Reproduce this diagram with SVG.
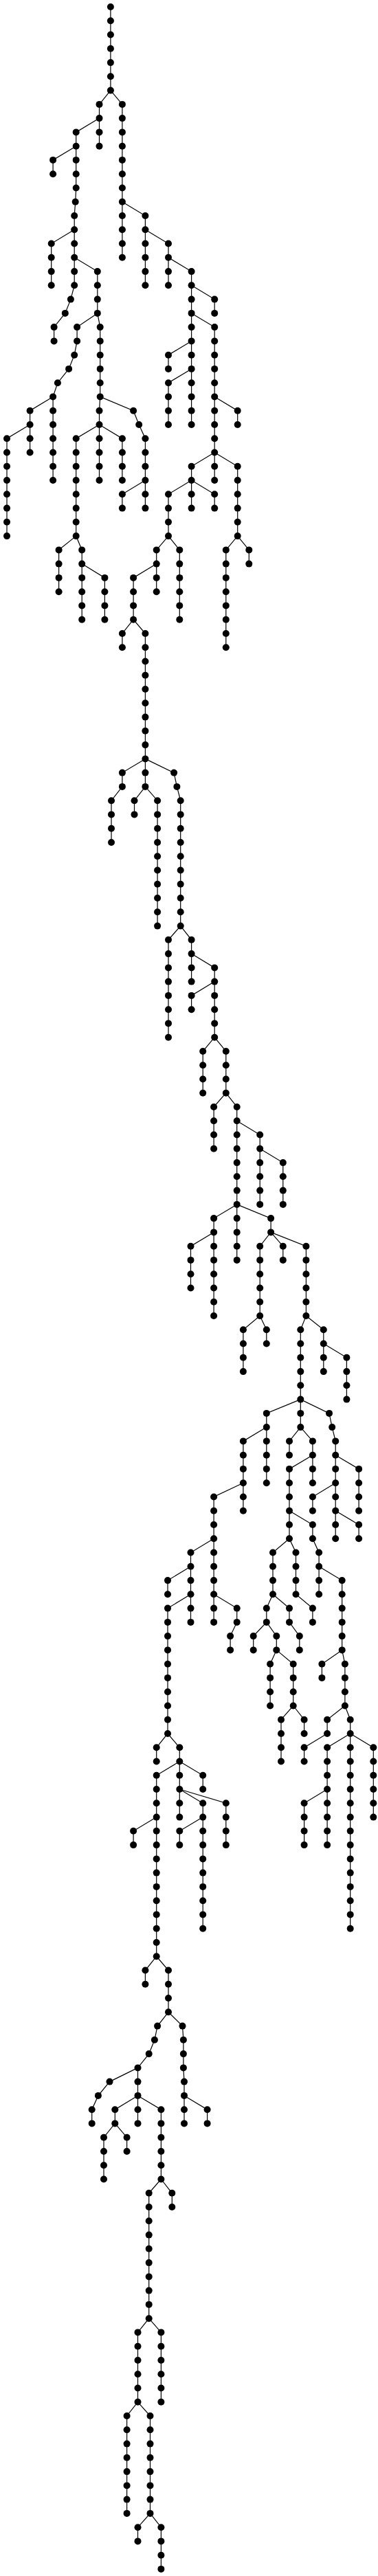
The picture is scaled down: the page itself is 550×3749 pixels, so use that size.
<svg xmlns="http://www.w3.org/2000/svg" width="550" height="3749" viewBox="0 0 550 3749">
<style>
.e path{fill:none;stroke:#000;stroke-width:1.2}
circle{fill:#000}
</style>
<rect width="550" height="3749" fill="#fff"/>
<g class="e" id="connectors">
<path d="M160.9 10V131.6"/>
<path d="M160.9 131.6L144.5 151.9V212.7"/>
<path d="M144.5 172.1L110.7 192.4V273.5L109.7 293.7L108.2 314V415.3L102.9 435.6L94.8 455.9L78.6 476.1V496.4"/>
<path d="M110.7 212.7L77.1 232.9V253.2"/>
<path d="M108.2 334.3L74.7 354.5V415.3"/>
<path d="M108.2 374.8L141.8 395.1V455.9L145.7 476.1V577.4L144.5 597.7V699"/>
<path d="M141.8 455.9L112.1 476.1V496.4L108.2 516.7L100.1 536.9L83.9 557.2L77.1 577.4V699"/>
<path d="M77.1 577.4L43.6 597.7V658.5"/>
<path d="M43.6 618L10 638.2V780.1"/>
<path d="M145.7 577.4L194.1 597.7L202.2 618L211.4 638.2V739.6"/>
<path d="M211.4 699L177.9 719.3V739.6"/>
<path d="M144.5 618L110.7 638.2V780.1L119.2 800.4V901.7"/>
<path d="M110.7 780.1L85.6 800.4V861.2"/>
<path d="M119.2 820.6L152.4 840.9V901.7"/>
<path d="M144.5 618L177.9 638.2V699"/>
<path d="M160.9 131.6L177.9 151.9V374.8"/>
<path d="M177.9 293.7L211.4 314V415.3"/>
<path d="M211.4 334.3L245 354.5V415.3"/>
<path d="M245 374.8L278.6 395.1V618"/>
<path d="M278.6 415.3L312.2 435.6V455.9"/>
<path d="M278.6 455.9L312.2 476.1V699"/>
<path d="M278.6 496.4L245 516.7V536.9"/>
<path d="M278.6 536.9L245 557.2V618"/>
<path d="M312.2 577.4L345.7 597.7V618"/>
<path d="M312.2 658.5L278.6 678.8V739.6"/>
<path d="M278.6 699L245 719.3V780.1L261.3 800.4V901.7"/>
<path d="M278.6 699L312.2 719.3V739.6"/>
<path d="M312.2 658.5L345.7 678.8V780.1L328.8 800.4V942.2"/>
<path d="M345.7 780.1L362.3 800.4V820.6"/>
<path d="M245 780.1L227.7 800.4V861.2"/>
<path d="M227.7 820.6L194.1 840.9V901.7L211.4 922V1144.9L229.1 1165.2V1347.6"/>
<path d="M194.1 901.7L177.9 922V942.2"/>
<path d="M211.4 1104.4L177.9 1124.6V1144.9L162 1165.2V1226"/>
<path d="M211.4 1144.9L195.5 1165.2V1185.4"/>
<path d="M211.4 1104.4L253.1 1124.6L257.4 1144.9L262.7 1165.2V1347.6L278.6 1367.8V1428.6"/>
<path d="M262.7 1347.6L245 1367.8V1509.7"/>
<path d="M278.6 1388.1L312.2 1408.4V1509.7L328.8 1530V1590.7L344.7 1611V1833.9"/>
<path d="M312.2 1428.6L278.6 1448.9V1469.2"/>
<path d="M312.2 1509.7L295.2 1530V1590.7"/>
<path d="M328.8 1590.7L311.1 1611V1671.8"/>
<path d="M344.7 1631.3L378.2 1651.5V1752.9"/>
<path d="M378.2 1671.8L411.8 1692.1V1752.9"/>
<path d="M344.7 1752.9L311.1 1773.1V1915"/>
<path d="M311.1 1793.4L277.5 1813.7V1874.5"/>
<path d="M344.7 1752.9L394.1 1773.1V1793.4L378.2 1813.7V1915L353.9 1935.3V1996.1"/>
<path d="M378.2 1915L387.8 1935.3V1955.5"/>
<path d="M394.1 1793.4L411.8 1813.7V1833.9"/>
<path d="M394.1 1793.4L445.4 1813.7V1915L437.3 1935.3V2077.1L454.9 2097.4V2158.2"/>
<path d="M445.4 1915L470.8 1935.3V1996.1"/>
<path d="M470.8 1955.5L504.4 1975.8V2036.6"/>
<path d="M437.3 2036.6L387.8 2056.9V2158.2"/>
<path d="M387.8 2077.1L353.9 2097.4V2198.7"/>
<path d="M353.9 2158.2L311.1 2178.5V2360.9"/>
<path d="M437.3 2077.1L421 2097.4V2117.7"/>
<path d="M454.9 2117.7L421 2137.9V2239.3L430.5 2259.5V2320.3L454.9 2340.6V2360.9"/>
<path d="M437.3 2036.6L479 2056.9L483.2 2077.1L488.2 2097.4V2239.3"/>
<path d="M488.2 2117.7L522.1 2137.9V2198.7"/>
<path d="M488.2 2158.2L454.9 2178.5V2198.7"/>
<path d="M488.2 2198.7L522.1 2219V2239.3"/>
<path d="M311.1 2239.3L277.5 2259.5V2360.9"/>
<path d="M277.5 2279.8L244 2300.1V2320.3"/>
<path d="M277.5 2320.3L244 2340.6V2523L227.7 2543.3V2563.5"/>
<path d="M311.1 2320.3L344.7 2340.6V2360.9L335.1 2381.1V2401.4"/>
<path d="M421 2239.3L397 2259.5V2320.3L387.8 2340.6V2360.9L368.7 2381.1V2401.4"/>
<path d="M387.8 2360.9L402.3 2381.1V2401.4L393.1 2421.7V2482.5"/>
<path d="M402.3 2401.4L426.7 2421.7V2482.5L409 2502.7V2563.5"/>
<path d="M426.7 2482.5L442.6 2502.7V2523"/>
<path d="M397 2320.3L421 2340.6V2360.9L435.8 2381.1V2401.4"/>
<path d="M421 2198.7L454.9 2219V2239.3L464.1 2259.5V2320.3"/>
<path d="M464.1 2279.8L497.7 2300.1V2401.4L501.9 2421.7V2482.5L509.7 2502.7V2806.7"/>
<path d="M497.7 2401.4L468.4 2421.7V2441.9"/>
<path d="M501.9 2482.5L476.1 2502.7V2523L442.6 2543.3V2563.5"/>
<path d="M509.7 2523L476.1 2543.3V2685.1"/>
<path d="M476.1 2604L442.6 2624.3V2685.1"/>
<path d="M509.7 2523L543.3 2543.3V2644.6"/>
<path d="M244 2523L261.3 2543.3V2644.6"/>
<path d="M261.3 2563.5L227.7 2583.8V2847.2L245 2867.5V2928.3L265.5 2948.6L266.9 2968.8V3009.4L268 3029.6V3090.4"/>
<path d="M227.7 2644.6L194.1 2664.8V2685.1"/>
<path d="M261.3 2563.5L295.2 2583.8V2604"/>
<path d="M261.3 2604L295.2 2624.3V2806.7"/>
<path d="M295.2 2644.6L261.3 2664.8V2685.1"/>
<path d="M261.3 2604L328.8 2624.3V2685.1"/>
<path d="M227.7 2847.2L211.4 2867.5V2887.8"/>
<path d="M245 2928.3L229.1 2948.6L224.9 2968.8L216.7 2989.1L200.5 3009.4V3090.4"/>
<path d="M200.5 3009.4L159.5 3029.6L142.9 3049.9L133.7 3070.2V3090.4"/>
<path d="M200.5 3049.9L167.3 3070.2V3090.4L151 3110.7V3171.5"/>
<path d="M167.3 3090.4L184.6 3110.7V3131"/>
<path d="M200.5 3049.9L234.4 3070.2V3171.5L216.7 3191.8V3374.2L200.5 3394.4V3495.8L184.6 3516V3657.9"/>
<path d="M234.4 3171.5L250.3 3191.8V3212"/>
<path d="M216.7 3374.2L234.4 3394.4V3495.8"/>
<path d="M200.5 3495.8L218.5 3516V3657.9L200.5 3678.2V3698.4"/>
<path d="M218.5 3657.9L234.4 3678.2V3738.9"/>
<path d="M268 3049.9L301.6 3070.2V3090.4"/>
</g>
<g id="nodes">
<g id="n1"><circle r="5" cx="160.9" cy="10"/></g>
<g id="n2"><circle r="5" cx="160.9" cy="30.3"/></g>
<g id="n3"><circle r="5" cx="160.9" cy="50.5"/></g>
<g id="n4"><circle r="5" cx="160.9" cy="70.8"/></g>
<g id="n5"><circle r="5" cx="160.9" cy="91.1"/></g>
<g id="n6"><circle r="5" cx="160.9" cy="111.3"/></g>
<g id="n7"><circle r="5" cx="160.9" cy="131.6"/></g>
<g id="n8"><circle r="5" cx="144.5" cy="151.9"/></g>
<g id="n9"><circle r="5" cx="144.5" cy="172.1"/></g>
<g id="n10"><circle r="5" cx="144.5" cy="192.4"/></g>
<g id="n11"><circle r="5" cx="144.5" cy="212.7"/></g>
<g id="n12"><circle r="5" cx="110.7" cy="192.4"/></g>
<g id="n13"><circle r="5" cx="110.7" cy="212.7"/></g>
<g id="n14"><circle r="5" cx="110.7" cy="232.9"/></g>
<g id="n15"><circle r="5" cx="110.7" cy="253.2"/></g>
<g id="n16"><circle r="5" cx="110.7" cy="273.5"/></g>
<g id="n17"><circle r="5" cx="109.7" cy="293.7"/></g>
<g id="n18"><circle r="5" cx="108.2" cy="314"/></g>
<g id="n19"><circle r="5" cx="108.2" cy="334.3"/></g>
<g id="n20"><circle r="5" cx="108.2" cy="354.5"/></g>
<g id="n21"><circle r="5" cx="108.2" cy="374.8"/></g>
<g id="n22"><circle r="5" cx="108.2" cy="395.1"/></g>
<g id="n23"><circle r="5" cx="108.2" cy="415.3"/></g>
<g id="n24"><circle r="5" cx="102.9" cy="435.6"/></g>
<g id="n25"><circle r="5" cx="94.8" cy="455.9"/></g>
<g id="n26"><circle r="5" cx="78.6" cy="476.1"/></g>
<g id="n27"><circle r="5" cx="78.6" cy="496.4"/></g>
<g id="n28"><circle r="5" cx="77.1" cy="232.9"/></g>
<g id="n29"><circle r="5" cx="77.1" cy="253.2"/></g>
<g id="n30"><circle r="5" cx="74.7" cy="354.5"/></g>
<g id="n31"><circle r="5" cx="74.7" cy="374.8"/></g>
<g id="n32"><circle r="5" cx="74.7" cy="395.1"/></g>
<g id="n33"><circle r="5" cx="74.7" cy="415.3"/></g>
<g id="n34"><circle r="5" cx="141.8" cy="395.1"/></g>
<g id="n35"><circle r="5" cx="141.8" cy="415.3"/></g>
<g id="n36"><circle r="5" cx="141.8" cy="435.6"/></g>
<g id="n37"><circle r="5" cx="141.8" cy="455.9"/></g>
<g id="n38"><circle r="5" cx="145.7" cy="476.1"/></g>
<g id="n39"><circle r="5" cx="145.7" cy="496.4"/></g>
<g id="n40"><circle r="5" cx="145.7" cy="516.7"/></g>
<g id="n41"><circle r="5" cx="145.7" cy="536.9"/></g>
<g id="n42"><circle r="5" cx="145.7" cy="557.2"/></g>
<g id="n43"><circle r="5" cx="145.7" cy="577.4"/></g>
<g id="n44"><circle r="5" cx="144.5" cy="597.7"/></g>
<g id="n45"><circle r="5" cx="144.5" cy="618"/></g>
<g id="n46"><circle r="5" cx="144.5" cy="638.2"/></g>
<g id="n47"><circle r="5" cx="144.5" cy="658.5"/></g>
<g id="n48"><circle r="5" cx="144.5" cy="678.8"/></g>
<g id="n49"><circle r="5" cx="144.5" cy="699"/></g>
<g id="n50"><circle r="5" cx="112.1" cy="476.1"/></g>
<g id="n51"><circle r="5" cx="112.1" cy="496.4"/></g>
<g id="n52"><circle r="5" cx="108.2" cy="516.7"/></g>
<g id="n53"><circle r="5" cx="100.1" cy="536.9"/></g>
<g id="n54"><circle r="5" cx="83.9" cy="557.2"/></g>
<g id="n55"><circle r="5" cx="77.1" cy="577.4"/></g>
<g id="n56"><circle r="5" cx="77.1" cy="597.7"/></g>
<g id="n57"><circle r="5" cx="77.1" cy="618"/></g>
<g id="n58"><circle r="5" cx="77.1" cy="638.2"/></g>
<g id="n59"><circle r="5" cx="77.1" cy="658.5"/></g>
<g id="n60"><circle r="5" cx="77.1" cy="678.8"/></g>
<g id="n61"><circle r="5" cx="77.1" cy="699"/></g>
<g id="n62"><circle r="5" cx="43.6" cy="597.7"/></g>
<g id="n63"><circle r="5" cx="43.6" cy="618"/></g>
<g id="n64"><circle r="5" cx="43.6" cy="638.2"/></g>
<g id="n65"><circle r="5" cx="43.6" cy="658.5"/></g>
<g id="n66"><circle r="5" cx="10" cy="638.2"/></g>
<g id="n67"><circle r="5" cx="10" cy="658.5"/></g>
<g id="n68"><circle r="5" cx="10" cy="678.8"/></g>
<g id="n69"><circle r="5" cx="10" cy="699"/></g>
<g id="n70"><circle r="5" cx="10" cy="719.3"/></g>
<g id="n71"><circle r="5" cx="10" cy="739.6"/></g>
<g id="n72"><circle r="5" cx="10" cy="759.8"/></g>
<g id="n73"><circle r="5" cx="10" cy="780.1"/></g>
<g id="n74"><circle r="5" cx="194.1" cy="597.7"/></g>
<g id="n75"><circle r="5" cx="202.2" cy="618"/></g>
<g id="n76"><circle r="5" cx="211.4" cy="638.2"/></g>
<g id="n77"><circle r="5" cx="211.4" cy="658.5"/></g>
<g id="n78"><circle r="5" cx="211.4" cy="678.8"/></g>
<g id="n79"><circle r="5" cx="211.4" cy="699"/></g>
<g id="n80"><circle r="5" cx="211.4" cy="719.3"/></g>
<g id="n81"><circle r="5" cx="211.4" cy="739.6"/></g>
<g id="n82"><circle r="5" cx="177.9" cy="719.3"/></g>
<g id="n83"><circle r="5" cx="177.9" cy="739.6"/></g>
<g id="n84"><circle r="5" cx="110.7" cy="638.2"/></g>
<g id="n85"><circle r="5" cx="110.7" cy="658.5"/></g>
<g id="n86"><circle r="5" cx="110.7" cy="678.8"/></g>
<g id="n87"><circle r="5" cx="110.7" cy="699"/></g>
<g id="n88"><circle r="5" cx="110.7" cy="719.3"/></g>
<g id="n89"><circle r="5" cx="110.7" cy="739.6"/></g>
<g id="n90"><circle r="5" cx="110.7" cy="759.8"/></g>
<g id="n91"><circle r="5" cx="110.7" cy="780.1"/></g>
<g id="n92"><circle r="5" cx="119.2" cy="800.4"/></g>
<g id="n93"><circle r="5" cx="119.2" cy="820.6"/></g>
<g id="n94"><circle r="5" cx="119.2" cy="840.9"/></g>
<g id="n95"><circle r="5" cx="119.2" cy="861.2"/></g>
<g id="n96"><circle r="5" cx="119.2" cy="881.4"/></g>
<g id="n97"><circle r="5" cx="119.2" cy="901.7"/></g>
<g id="n98"><circle r="5" cx="85.6" cy="800.4"/></g>
<g id="n99"><circle r="5" cx="85.6" cy="820.6"/></g>
<g id="n100"><circle r="5" cx="85.6" cy="840.9"/></g>
<g id="n101"><circle r="5" cx="85.6" cy="861.2"/></g>
<g id="n102"><circle r="5" cx="152.4" cy="840.9"/></g>
<g id="n103"><circle r="5" cx="152.4" cy="861.2"/></g>
<g id="n104"><circle r="5" cx="152.4" cy="881.4"/></g>
<g id="n105"><circle r="5" cx="152.4" cy="901.7"/></g>
<g id="n106"><circle r="5" cx="177.9" cy="638.2"/></g>
<g id="n107"><circle r="5" cx="177.9" cy="658.5"/></g>
<g id="n108"><circle r="5" cx="177.9" cy="678.8"/></g>
<g id="n109"><circle r="5" cx="177.9" cy="699"/></g>
<g id="n110"><circle r="5" cx="177.9" cy="151.9"/></g>
<g id="n111"><circle r="5" cx="177.9" cy="172.1"/></g>
<g id="n112"><circle r="5" cx="177.9" cy="192.4"/></g>
<g id="n113"><circle r="5" cx="177.9" cy="212.7"/></g>
<g id="n114"><circle r="5" cx="177.9" cy="232.9"/></g>
<g id="n115"><circle r="5" cx="177.9" cy="253.2"/></g>
<g id="n116"><circle r="5" cx="177.9" cy="273.5"/></g>
<g id="n117"><circle r="5" cx="177.9" cy="293.7"/></g>
<g id="n118"><circle r="5" cx="177.9" cy="314"/></g>
<g id="n119"><circle r="5" cx="177.9" cy="334.3"/></g>
<g id="n120"><circle r="5" cx="177.9" cy="354.5"/></g>
<g id="n121"><circle r="5" cx="177.9" cy="374.8"/></g>
<g id="n122"><circle r="5" cx="211.4" cy="314"/></g>
<g id="n123"><circle r="5" cx="211.4" cy="334.3"/></g>
<g id="n124"><circle r="5" cx="211.4" cy="354.5"/></g>
<g id="n125"><circle r="5" cx="211.4" cy="374.8"/></g>
<g id="n126"><circle r="5" cx="211.4" cy="395.1"/></g>
<g id="n127"><circle r="5" cx="211.4" cy="415.3"/></g>
<g id="n128"><circle r="5" cx="245" cy="354.5"/></g>
<g id="n129"><circle r="5" cx="245" cy="374.8"/></g>
<g id="n130"><circle r="5" cx="245" cy="395.1"/></g>
<g id="n131"><circle r="5" cx="245" cy="415.3"/></g>
<g id="n132"><circle r="5" cx="278.6" cy="395.1"/></g>
<g id="n133"><circle r="5" cx="278.6" cy="415.3"/></g>
<g id="n134"><circle r="5" cx="278.6" cy="435.6"/></g>
<g id="n135"><circle r="5" cx="278.6" cy="455.9"/></g>
<g id="n136"><circle r="5" cx="278.6" cy="476.1"/></g>
<g id="n137"><circle r="5" cx="278.6" cy="496.4"/></g>
<g id="n138"><circle r="5" cx="278.6" cy="516.7"/></g>
<g id="n139"><circle r="5" cx="278.6" cy="536.9"/></g>
<g id="n140"><circle r="5" cx="278.6" cy="557.2"/></g>
<g id="n141"><circle r="5" cx="278.6" cy="577.4"/></g>
<g id="n142"><circle r="5" cx="278.6" cy="597.7"/></g>
<g id="n143"><circle r="5" cx="278.6" cy="618"/></g>
<g id="n144"><circle r="5" cx="312.2" cy="435.6"/></g>
<g id="n145"><circle r="5" cx="312.2" cy="455.9"/></g>
<g id="n146"><circle r="5" cx="312.2" cy="476.1"/></g>
<g id="n147"><circle r="5" cx="312.2" cy="496.4"/></g>
<g id="n148"><circle r="5" cx="312.2" cy="516.7"/></g>
<g id="n149"><circle r="5" cx="312.2" cy="536.9"/></g>
<g id="n150"><circle r="5" cx="312.2" cy="557.2"/></g>
<g id="n151"><circle r="5" cx="312.2" cy="577.4"/></g>
<g id="n152"><circle r="5" cx="312.2" cy="597.7"/></g>
<g id="n153"><circle r="5" cx="312.2" cy="618"/></g>
<g id="n154"><circle r="5" cx="312.2" cy="638.2"/></g>
<g id="n155"><circle r="5" cx="312.2" cy="658.5"/></g>
<g id="n156"><circle r="5" cx="312.2" cy="678.8"/></g>
<g id="n157"><circle r="5" cx="312.2" cy="699"/></g>
<g id="n158"><circle r="5" cx="245" cy="516.7"/></g>
<g id="n159"><circle r="5" cx="245" cy="536.9"/></g>
<g id="n160"><circle r="5" cx="245" cy="557.2"/></g>
<g id="n161"><circle r="5" cx="245" cy="577.4"/></g>
<g id="n162"><circle r="5" cx="245" cy="597.7"/></g>
<g id="n163"><circle r="5" cx="245" cy="618"/></g>
<g id="n164"><circle r="5" cx="345.7" cy="597.7"/></g>
<g id="n165"><circle r="5" cx="345.7" cy="618"/></g>
<g id="n166"><circle r="5" cx="278.6" cy="678.8"/></g>
<g id="n167"><circle r="5" cx="278.6" cy="699"/></g>
<g id="n168"><circle r="5" cx="278.6" cy="719.3"/></g>
<g id="n169"><circle r="5" cx="278.6" cy="739.6"/></g>
<g id="n170"><circle r="5" cx="245" cy="719.3"/></g>
<g id="n171"><circle r="5" cx="245" cy="739.6"/></g>
<g id="n172"><circle r="5" cx="245" cy="759.8"/></g>
<g id="n173"><circle r="5" cx="245" cy="780.1"/></g>
<g id="n174"><circle r="5" cx="261.3" cy="800.4"/></g>
<g id="n175"><circle r="5" cx="261.3" cy="820.6"/></g>
<g id="n176"><circle r="5" cx="261.3" cy="840.9"/></g>
<g id="n177"><circle r="5" cx="261.3" cy="861.2"/></g>
<g id="n178"><circle r="5" cx="261.3" cy="881.4"/></g>
<g id="n179"><circle r="5" cx="261.3" cy="901.7"/></g>
<g id="n180"><circle r="5" cx="312.2" cy="719.3"/></g>
<g id="n181"><circle r="5" cx="312.2" cy="739.6"/></g>
<g id="n182"><circle r="5" cx="345.7" cy="678.8"/></g>
<g id="n183"><circle r="5" cx="345.7" cy="699"/></g>
<g id="n184"><circle r="5" cx="345.7" cy="719.3"/></g>
<g id="n185"><circle r="5" cx="345.7" cy="739.6"/></g>
<g id="n186"><circle r="5" cx="345.7" cy="759.8"/></g>
<g id="n187"><circle r="5" cx="345.7" cy="780.1"/></g>
<g id="n188"><circle r="5" cx="328.8" cy="800.4"/></g>
<g id="n189"><circle r="5" cx="328.8" cy="820.6"/></g>
<g id="n190"><circle r="5" cx="328.8" cy="840.9"/></g>
<g id="n191"><circle r="5" cx="328.8" cy="861.2"/></g>
<g id="n192"><circle r="5" cx="328.8" cy="881.4"/></g>
<g id="n193"><circle r="5" cx="328.8" cy="901.7"/></g>
<g id="n194"><circle r="5" cx="328.8" cy="922"/></g>
<g id="n195"><circle r="5" cx="328.8" cy="942.2"/></g>
<g id="n196"><circle r="5" cx="362.3" cy="800.4"/></g>
<g id="n197"><circle r="5" cx="362.3" cy="820.6"/></g>
<g id="n198"><circle r="5" cx="227.7" cy="800.4"/></g>
<g id="n199"><circle r="5" cx="227.7" cy="820.6"/></g>
<g id="n200"><circle r="5" cx="227.7" cy="840.9"/></g>
<g id="n201"><circle r="5" cx="227.7" cy="861.2"/></g>
<g id="n202"><circle r="5" cx="194.1" cy="840.9"/></g>
<g id="n203"><circle r="5" cx="194.1" cy="861.2"/></g>
<g id="n204"><circle r="5" cx="194.1" cy="881.4"/></g>
<g id="n205"><circle r="5" cx="194.1" cy="901.7"/></g>
<g id="n206"><circle r="5" cx="211.4" cy="922"/></g>
<g id="n207"><circle r="5" cx="211.4" cy="942.2"/></g>
<g id="n208"><circle r="5" cx="211.4" cy="962.5"/></g>
<g id="n209"><circle r="5" cx="211.4" cy="982.8"/></g>
<g id="n210"><circle r="5" cx="211.4" cy="1003"/></g>
<g id="n211"><circle r="5" cx="211.4" cy="1023.3"/></g>
<g id="n212"><circle r="5" cx="211.4" cy="1043.6"/></g>
<g id="n213"><circle r="5" cx="211.4" cy="1063.8"/></g>
<g id="n214"><circle r="5" cx="211.4" cy="1084.1"/></g>
<g id="n215"><circle r="5" cx="211.4" cy="1104.4"/></g>
<g id="n216"><circle r="5" cx="211.4" cy="1124.6"/></g>
<g id="n217"><circle r="5" cx="211.4" cy="1144.9"/></g>
<g id="n218"><circle r="5" cx="229.1" cy="1165.2"/></g>
<g id="n219"><circle r="5" cx="229.1" cy="1185.4"/></g>
<g id="n220"><circle r="5" cx="229.1" cy="1205.7"/></g>
<g id="n221"><circle r="5" cx="229.1" cy="1226"/></g>
<g id="n222"><circle r="5" cx="229.1" cy="1246.2"/></g>
<g id="n223"><circle r="5" cx="229.1" cy="1266.5"/></g>
<g id="n224"><circle r="5" cx="229.1" cy="1286.8"/></g>
<g id="n225"><circle r="5" cx="229.1" cy="1307"/></g>
<g id="n226"><circle r="5" cx="229.1" cy="1327.3"/></g>
<g id="n227"><circle r="5" cx="229.1" cy="1347.6"/></g>
<g id="n228"><circle r="5" cx="177.9" cy="922"/></g>
<g id="n229"><circle r="5" cx="177.9" cy="942.2"/></g>
<g id="n230"><circle r="5" cx="177.9" cy="1124.6"/></g>
<g id="n231"><circle r="5" cx="177.9" cy="1144.9"/></g>
<g id="n232"><circle r="5" cx="162" cy="1165.2"/></g>
<g id="n233"><circle r="5" cx="162" cy="1185.4"/></g>
<g id="n234"><circle r="5" cx="162" cy="1205.7"/></g>
<g id="n235"><circle r="5" cx="162" cy="1226"/></g>
<g id="n236"><circle r="5" cx="195.5" cy="1165.2"/></g>
<g id="n237"><circle r="5" cx="195.5" cy="1185.4"/></g>
<g id="n238"><circle r="5" cx="253.1" cy="1124.6"/></g>
<g id="n239"><circle r="5" cx="257.4" cy="1144.9"/></g>
<g id="n240"><circle r="5" cx="262.7" cy="1165.2"/></g>
<g id="n241"><circle r="5" cx="262.7" cy="1185.4"/></g>
<g id="n242"><circle r="5" cx="262.7" cy="1205.7"/></g>
<g id="n243"><circle r="5" cx="262.7" cy="1226"/></g>
<g id="n244"><circle r="5" cx="262.7" cy="1246.2"/></g>
<g id="n245"><circle r="5" cx="262.7" cy="1266.5"/></g>
<g id="n246"><circle r="5" cx="262.7" cy="1286.8"/></g>
<g id="n247"><circle r="5" cx="262.7" cy="1307"/></g>
<g id="n248"><circle r="5" cx="262.7" cy="1327.3"/></g>
<g id="n249"><circle r="5" cx="262.7" cy="1347.6"/></g>
<g id="n250"><circle r="5" cx="278.6" cy="1367.8"/></g>
<g id="n251"><circle r="5" cx="278.6" cy="1388.1"/></g>
<g id="n252"><circle r="5" cx="278.6" cy="1408.4"/></g>
<g id="n253"><circle r="5" cx="278.6" cy="1428.6"/></g>
<g id="n254"><circle r="5" cx="245" cy="1367.8"/></g>
<g id="n255"><circle r="5" cx="245" cy="1388.1"/></g>
<g id="n256"><circle r="5" cx="245" cy="1408.4"/></g>
<g id="n257"><circle r="5" cx="245" cy="1428.6"/></g>
<g id="n258"><circle r="5" cx="245" cy="1448.9"/></g>
<g id="n259"><circle r="5" cx="245" cy="1469.2"/></g>
<g id="n260"><circle r="5" cx="245" cy="1489.4"/></g>
<g id="n261"><circle r="5" cx="245" cy="1509.7"/></g>
<g id="n262"><circle r="5" cx="312.2" cy="1408.4"/></g>
<g id="n263"><circle r="5" cx="312.2" cy="1428.6"/></g>
<g id="n264"><circle r="5" cx="312.2" cy="1448.9"/></g>
<g id="n265"><circle r="5" cx="312.2" cy="1469.2"/></g>
<g id="n266"><circle r="5" cx="312.2" cy="1489.4"/></g>
<g id="n267"><circle r="5" cx="312.2" cy="1509.7"/></g>
<g id="n268"><circle r="5" cx="328.8" cy="1530"/></g>
<g id="n269"><circle r="5" cx="328.8" cy="1550.2"/></g>
<g id="n270"><circle r="5" cx="328.8" cy="1570.5"/></g>
<g id="n271"><circle r="5" cx="328.8" cy="1590.7"/></g>
<g id="n272"><circle r="5" cx="344.7" cy="1611"/></g>
<g id="n273"><circle r="5" cx="344.7" cy="1631.3"/></g>
<g id="n274"><circle r="5" cx="344.7" cy="1651.5"/></g>
<g id="n275"><circle r="5" cx="344.7" cy="1671.8"/></g>
<g id="n276"><circle r="5" cx="344.7" cy="1692.1"/></g>
<g id="n277"><circle r="5" cx="344.7" cy="1712.3"/></g>
<g id="n278"><circle r="5" cx="344.7" cy="1732.6"/></g>
<g id="n279"><circle r="5" cx="344.7" cy="1752.9"/></g>
<g id="n280"><circle r="5" cx="344.7" cy="1773.1"/></g>
<g id="n281"><circle r="5" cx="344.7" cy="1793.4"/></g>
<g id="n282"><circle r="5" cx="344.7" cy="1813.7"/></g>
<g id="n283"><circle r="5" cx="344.7" cy="1833.9"/></g>
<g id="n284"><circle r="5" cx="278.6" cy="1448.9"/></g>
<g id="n285"><circle r="5" cx="278.6" cy="1469.2"/></g>
<g id="n286"><circle r="5" cx="295.2" cy="1530"/></g>
<g id="n287"><circle r="5" cx="295.2" cy="1550.2"/></g>
<g id="n288"><circle r="5" cx="295.2" cy="1570.5"/></g>
<g id="n289"><circle r="5" cx="295.2" cy="1590.7"/></g>
<g id="n290"><circle r="5" cx="311.1" cy="1611"/></g>
<g id="n291"><circle r="5" cx="311.1" cy="1631.3"/></g>
<g id="n292"><circle r="5" cx="311.1" cy="1651.5"/></g>
<g id="n293"><circle r="5" cx="311.1" cy="1671.8"/></g>
<g id="n294"><circle r="5" cx="378.2" cy="1651.5"/></g>
<g id="n295"><circle r="5" cx="378.2" cy="1671.8"/></g>
<g id="n296"><circle r="5" cx="378.2" cy="1692.1"/></g>
<g id="n297"><circle r="5" cx="378.2" cy="1712.3"/></g>
<g id="n298"><circle r="5" cx="378.2" cy="1732.6"/></g>
<g id="n299"><circle r="5" cx="378.2" cy="1752.9"/></g>
<g id="n300"><circle r="5" cx="411.8" cy="1692.1"/></g>
<g id="n301"><circle r="5" cx="411.8" cy="1712.3"/></g>
<g id="n302"><circle r="5" cx="411.8" cy="1732.6"/></g>
<g id="n303"><circle r="5" cx="411.8" cy="1752.9"/></g>
<g id="n304"><circle r="5" cx="311.1" cy="1773.1"/></g>
<g id="n305"><circle r="5" cx="311.1" cy="1793.4"/></g>
<g id="n306"><circle r="5" cx="311.1" cy="1813.7"/></g>
<g id="n307"><circle r="5" cx="311.1" cy="1833.9"/></g>
<g id="n308"><circle r="5" cx="311.1" cy="1854.2"/></g>
<g id="n309"><circle r="5" cx="311.1" cy="1874.5"/></g>
<g id="n310"><circle r="5" cx="311.1" cy="1894.7"/></g>
<g id="n311"><circle r="5" cx="311.1" cy="1915"/></g>
<g id="n312"><circle r="5" cx="277.5" cy="1813.7"/></g>
<g id="n313"><circle r="5" cx="277.5" cy="1833.9"/></g>
<g id="n314"><circle r="5" cx="277.5" cy="1854.2"/></g>
<g id="n315"><circle r="5" cx="277.5" cy="1874.5"/></g>
<g id="n316"><circle r="5" cx="394.1" cy="1773.1"/></g>
<g id="n317"><circle r="5" cx="394.1" cy="1793.4"/></g>
<g id="n318"><circle r="5" cx="378.2" cy="1813.7"/></g>
<g id="n319"><circle r="5" cx="378.2" cy="1833.9"/></g>
<g id="n320"><circle r="5" cx="378.2" cy="1854.2"/></g>
<g id="n321"><circle r="5" cx="378.2" cy="1874.5"/></g>
<g id="n322"><circle r="5" cx="378.2" cy="1894.7"/></g>
<g id="n323"><circle r="5" cx="378.2" cy="1915"/></g>
<g id="n324"><circle r="5" cx="353.9" cy="1935.3"/></g>
<g id="n325"><circle r="5" cx="353.9" cy="1955.5"/></g>
<g id="n326"><circle r="5" cx="353.9" cy="1975.8"/></g>
<g id="n327"><circle r="5" cx="353.9" cy="1996.1"/></g>
<g id="n328"><circle r="5" cx="387.8" cy="1935.3"/></g>
<g id="n329"><circle r="5" cx="387.8" cy="1955.5"/></g>
<g id="n330"><circle r="5" cx="411.8" cy="1813.7"/></g>
<g id="n331"><circle r="5" cx="411.8" cy="1833.9"/></g>
<g id="n332"><circle r="5" cx="445.4" cy="1813.7"/></g>
<g id="n333"><circle r="5" cx="445.4" cy="1833.9"/></g>
<g id="n334"><circle r="5" cx="445.4" cy="1854.2"/></g>
<g id="n335"><circle r="5" cx="445.4" cy="1874.5"/></g>
<g id="n336"><circle r="5" cx="445.4" cy="1894.7"/></g>
<g id="n337"><circle r="5" cx="445.4" cy="1915"/></g>
<g id="n338"><circle r="5" cx="437.3" cy="1935.3"/></g>
<g id="n339"><circle r="5" cx="437.3" cy="1955.5"/></g>
<g id="n340"><circle r="5" cx="437.3" cy="1975.8"/></g>
<g id="n341"><circle r="5" cx="437.3" cy="1996.1"/></g>
<g id="n342"><circle r="5" cx="437.3" cy="2016.3"/></g>
<g id="n343"><circle r="5" cx="437.3" cy="2036.6"/></g>
<g id="n344"><circle r="5" cx="437.3" cy="2056.9"/></g>
<g id="n345"><circle r="5" cx="437.3" cy="2077.1"/></g>
<g id="n346"><circle r="5" cx="454.9" cy="2097.4"/></g>
<g id="n347"><circle r="5" cx="454.9" cy="2117.7"/></g>
<g id="n348"><circle r="5" cx="454.9" cy="2137.9"/></g>
<g id="n349"><circle r="5" cx="454.9" cy="2158.2"/></g>
<g id="n350"><circle r="5" cx="470.8" cy="1935.3"/></g>
<g id="n351"><circle r="5" cx="470.8" cy="1955.5"/></g>
<g id="n352"><circle r="5" cx="470.8" cy="1975.8"/></g>
<g id="n353"><circle r="5" cx="470.8" cy="1996.1"/></g>
<g id="n354"><circle r="5" cx="504.4" cy="1975.8"/></g>
<g id="n355"><circle r="5" cx="504.4" cy="1996.1"/></g>
<g id="n356"><circle r="5" cx="504.4" cy="2016.3"/></g>
<g id="n357"><circle r="5" cx="504.4" cy="2036.6"/></g>
<g id="n358"><circle r="5" cx="387.8" cy="2056.9"/></g>
<g id="n359"><circle r="5" cx="387.8" cy="2077.1"/></g>
<g id="n360"><circle r="5" cx="387.8" cy="2097.4"/></g>
<g id="n361"><circle r="5" cx="387.8" cy="2117.7"/></g>
<g id="n362"><circle r="5" cx="387.8" cy="2137.9"/></g>
<g id="n363"><circle r="5" cx="387.8" cy="2158.2"/></g>
<g id="n364"><circle r="5" cx="353.9" cy="2097.4"/></g>
<g id="n365"><circle r="5" cx="353.9" cy="2117.7"/></g>
<g id="n366"><circle r="5" cx="353.9" cy="2137.9"/></g>
<g id="n367"><circle r="5" cx="353.9" cy="2158.2"/></g>
<g id="n368"><circle r="5" cx="353.9" cy="2178.5"/></g>
<g id="n369"><circle r="5" cx="353.9" cy="2198.7"/></g>
<g id="n370"><circle r="5" cx="311.1" cy="2178.5"/></g>
<g id="n371"><circle r="5" cx="311.1" cy="2198.7"/></g>
<g id="n372"><circle r="5" cx="311.1" cy="2219"/></g>
<g id="n373"><circle r="5" cx="311.1" cy="2239.3"/></g>
<g id="n374"><circle r="5" cx="311.1" cy="2259.5"/></g>
<g id="n375"><circle r="5" cx="311.1" cy="2279.8"/></g>
<g id="n376"><circle r="5" cx="311.1" cy="2300.1"/></g>
<g id="n377"><circle r="5" cx="311.1" cy="2320.3"/></g>
<g id="n378"><circle r="5" cx="311.1" cy="2340.6"/></g>
<g id="n379"><circle r="5" cx="311.1" cy="2360.9"/></g>
<g id="n380"><circle r="5" cx="421" cy="2097.4"/></g>
<g id="n381"><circle r="5" cx="421" cy="2117.7"/></g>
<g id="n382"><circle r="5" cx="421" cy="2137.9"/></g>
<g id="n383"><circle r="5" cx="421" cy="2158.2"/></g>
<g id="n384"><circle r="5" cx="421" cy="2178.5"/></g>
<g id="n385"><circle r="5" cx="421" cy="2198.7"/></g>
<g id="n386"><circle r="5" cx="421" cy="2219"/></g>
<g id="n387"><circle r="5" cx="421" cy="2239.3"/></g>
<g id="n388"><circle r="5" cx="430.5" cy="2259.5"/></g>
<g id="n389"><circle r="5" cx="430.5" cy="2279.8"/></g>
<g id="n390"><circle r="5" cx="430.5" cy="2300.1"/></g>
<g id="n391"><circle r="5" cx="430.5" cy="2320.3"/></g>
<g id="n392"><circle r="5" cx="454.9" cy="2340.6"/></g>
<g id="n393"><circle r="5" cx="454.9" cy="2360.9"/></g>
<g id="n394"><circle r="5" cx="479" cy="2056.9"/></g>
<g id="n395"><circle r="5" cx="483.2" cy="2077.1"/></g>
<g id="n396"><circle r="5" cx="488.2" cy="2097.4"/></g>
<g id="n397"><circle r="5" cx="488.2" cy="2117.7"/></g>
<g id="n398"><circle r="5" cx="488.2" cy="2137.9"/></g>
<g id="n399"><circle r="5" cx="488.2" cy="2158.2"/></g>
<g id="n400"><circle r="5" cx="488.2" cy="2178.5"/></g>
<g id="n401"><circle r="5" cx="488.2" cy="2198.7"/></g>
<g id="n402"><circle r="5" cx="488.2" cy="2219"/></g>
<g id="n403"><circle r="5" cx="488.2" cy="2239.3"/></g>
<g id="n404"><circle r="5" cx="522.1" cy="2137.9"/></g>
<g id="n405"><circle r="5" cx="522.1" cy="2158.2"/></g>
<g id="n406"><circle r="5" cx="522.1" cy="2178.5"/></g>
<g id="n407"><circle r="5" cx="522.1" cy="2198.7"/></g>
<g id="n408"><circle r="5" cx="454.9" cy="2178.5"/></g>
<g id="n409"><circle r="5" cx="454.9" cy="2198.7"/></g>
<g id="n410"><circle r="5" cx="522.1" cy="2219"/></g>
<g id="n411"><circle r="5" cx="522.1" cy="2239.3"/></g>
<g id="n412"><circle r="5" cx="277.5" cy="2259.5"/></g>
<g id="n413"><circle r="5" cx="277.5" cy="2279.8"/></g>
<g id="n414"><circle r="5" cx="277.5" cy="2300.1"/></g>
<g id="n415"><circle r="5" cx="277.5" cy="2320.3"/></g>
<g id="n416"><circle r="5" cx="277.5" cy="2340.6"/></g>
<g id="n417"><circle r="5" cx="277.5" cy="2360.9"/></g>
<g id="n418"><circle r="5" cx="244" cy="2300.1"/></g>
<g id="n419"><circle r="5" cx="244" cy="2320.3"/></g>
<g id="n420"><circle r="5" cx="244" cy="2340.6"/></g>
<g id="n421"><circle r="5" cx="244" cy="2360.9"/></g>
<g id="n422"><circle r="5" cx="244" cy="2381.1"/></g>
<g id="n423"><circle r="5" cx="244" cy="2401.4"/></g>
<g id="n424"><circle r="5" cx="244" cy="2421.7"/></g>
<g id="n425"><circle r="5" cx="244" cy="2441.9"/></g>
<g id="n426"><circle r="5" cx="244" cy="2462.2"/></g>
<g id="n427"><circle r="5" cx="244" cy="2482.5"/></g>
<g id="n428"><circle r="5" cx="244" cy="2502.7"/></g>
<g id="n429"><circle r="5" cx="244" cy="2523"/></g>
<g id="n430"><circle r="5" cx="227.7" cy="2543.3"/></g>
<g id="n431"><circle r="5" cx="227.7" cy="2563.5"/></g>
<g id="n432"><circle r="5" cx="344.7" cy="2340.6"/></g>
<g id="n433"><circle r="5" cx="344.7" cy="2360.9"/></g>
<g id="n434"><circle r="5" cx="335.1" cy="2381.1"/></g>
<g id="n435"><circle r="5" cx="335.1" cy="2401.4"/></g>
<g id="n436"><circle r="5" cx="397" cy="2259.5"/></g>
<g id="n437"><circle r="5" cx="397" cy="2279.8"/></g>
<g id="n438"><circle r="5" cx="397" cy="2300.1"/></g>
<g id="n439"><circle r="5" cx="397" cy="2320.3"/></g>
<g id="n440"><circle r="5" cx="387.8" cy="2340.6"/></g>
<g id="n441"><circle r="5" cx="387.8" cy="2360.9"/></g>
<g id="n442"><circle r="5" cx="368.7" cy="2381.1"/></g>
<g id="n443"><circle r="5" cx="368.7" cy="2401.4"/></g>
<g id="n444"><circle r="5" cx="402.3" cy="2381.1"/></g>
<g id="n445"><circle r="5" cx="402.3" cy="2401.4"/></g>
<g id="n446"><circle r="5" cx="393.1" cy="2421.7"/></g>
<g id="n447"><circle r="5" cx="393.1" cy="2441.9"/></g>
<g id="n448"><circle r="5" cx="393.1" cy="2462.2"/></g>
<g id="n449"><circle r="5" cx="393.1" cy="2482.5"/></g>
<g id="n450"><circle r="5" cx="426.7" cy="2421.7"/></g>
<g id="n451"><circle r="5" cx="426.7" cy="2441.9"/></g>
<g id="n452"><circle r="5" cx="426.7" cy="2462.2"/></g>
<g id="n453"><circle r="5" cx="426.7" cy="2482.5"/></g>
<g id="n454"><circle r="5" cx="409" cy="2502.7"/></g>
<g id="n455"><circle r="5" cx="409" cy="2523"/></g>
<g id="n456"><circle r="5" cx="409" cy="2543.3"/></g>
<g id="n457"><circle r="5" cx="409" cy="2563.5"/></g>
<g id="n458"><circle r="5" cx="442.6" cy="2502.7"/></g>
<g id="n459"><circle r="5" cx="442.6" cy="2523"/></g>
<g id="n460"><circle r="5" cx="421" cy="2340.6"/></g>
<g id="n461"><circle r="5" cx="421" cy="2360.9"/></g>
<g id="n462"><circle r="5" cx="435.8" cy="2381.1"/></g>
<g id="n463"><circle r="5" cx="435.8" cy="2401.4"/></g>
<g id="n464"><circle r="5" cx="454.9" cy="2219"/></g>
<g id="n465"><circle r="5" cx="454.9" cy="2239.3"/></g>
<g id="n466"><circle r="5" cx="464.1" cy="2259.5"/></g>
<g id="n467"><circle r="5" cx="464.1" cy="2279.8"/></g>
<g id="n468"><circle r="5" cx="464.1" cy="2300.1"/></g>
<g id="n469"><circle r="5" cx="464.1" cy="2320.3"/></g>
<g id="n470"><circle r="5" cx="497.7" cy="2300.1"/></g>
<g id="n471"><circle r="5" cx="497.7" cy="2320.3"/></g>
<g id="n472"><circle r="5" cx="497.7" cy="2340.6"/></g>
<g id="n473"><circle r="5" cx="497.7" cy="2360.9"/></g>
<g id="n474"><circle r="5" cx="497.7" cy="2381.1"/></g>
<g id="n475"><circle r="5" cx="497.7" cy="2401.4"/></g>
<g id="n476"><circle r="5" cx="501.9" cy="2421.7"/></g>
<g id="n477"><circle r="5" cx="501.9" cy="2441.9"/></g>
<g id="n478"><circle r="5" cx="501.9" cy="2462.2"/></g>
<g id="n479"><circle r="5" cx="501.9" cy="2482.5"/></g>
<g id="n480"><circle r="5" cx="509.7" cy="2502.7"/></g>
<g id="n481"><circle r="5" cx="509.7" cy="2523"/></g>
<g id="n482"><circle r="5" cx="509.7" cy="2543.3"/></g>
<g id="n483"><circle r="5" cx="509.7" cy="2563.5"/></g>
<g id="n484"><circle r="5" cx="509.7" cy="2583.8"/></g>
<g id="n485"><circle r="5" cx="509.7" cy="2604"/></g>
<g id="n486"><circle r="5" cx="509.7" cy="2624.3"/></g>
<g id="n487"><circle r="5" cx="509.7" cy="2644.6"/></g>
<g id="n488"><circle r="5" cx="509.7" cy="2664.8"/></g>
<g id="n489"><circle r="5" cx="509.7" cy="2685.1"/></g>
<g id="n490"><circle r="5" cx="509.7" cy="2705.4"/></g>
<g id="n491"><circle r="5" cx="509.7" cy="2725.6"/></g>
<g id="n492"><circle r="5" cx="509.7" cy="2745.9"/></g>
<g id="n493"><circle r="5" cx="509.7" cy="2766.2"/></g>
<g id="n494"><circle r="5" cx="509.7" cy="2786.4"/></g>
<g id="n495"><circle r="5" cx="509.7" cy="2806.7"/></g>
<g id="n496"><circle r="5" cx="468.4" cy="2421.7"/></g>
<g id="n497"><circle r="5" cx="468.4" cy="2441.9"/></g>
<g id="n498"><circle r="5" cx="476.1" cy="2502.7"/></g>
<g id="n499"><circle r="5" cx="476.1" cy="2523"/></g>
<g id="n500"><circle r="5" cx="442.6" cy="2543.3"/></g>
<g id="n501"><circle r="5" cx="442.6" cy="2563.5"/></g>
<g id="n502"><circle r="5" cx="476.1" cy="2543.3"/></g>
<g id="n503"><circle r="5" cx="476.1" cy="2563.5"/></g>
<g id="n504"><circle r="5" cx="476.1" cy="2583.8"/></g>
<g id="n505"><circle r="5" cx="476.1" cy="2604"/></g>
<g id="n506"><circle r="5" cx="476.1" cy="2624.3"/></g>
<g id="n507"><circle r="5" cx="476.1" cy="2644.6"/></g>
<g id="n508"><circle r="5" cx="476.1" cy="2664.8"/></g>
<g id="n509"><circle r="5" cx="476.1" cy="2685.1"/></g>
<g id="n510"><circle r="5" cx="442.6" cy="2624.3"/></g>
<g id="n511"><circle r="5" cx="442.6" cy="2644.6"/></g>
<g id="n512"><circle r="5" cx="442.6" cy="2664.8"/></g>
<g id="n513"><circle r="5" cx="442.6" cy="2685.1"/></g>
<g id="n514"><circle r="5" cx="543.3" cy="2543.3"/></g>
<g id="n515"><circle r="5" cx="543.3" cy="2563.5"/></g>
<g id="n516"><circle r="5" cx="543.3" cy="2583.8"/></g>
<g id="n517"><circle r="5" cx="543.3" cy="2604"/></g>
<g id="n518"><circle r="5" cx="543.3" cy="2624.3"/></g>
<g id="n519"><circle r="5" cx="543.3" cy="2644.6"/></g>
<g id="n520"><circle r="5" cx="261.3" cy="2543.3"/></g>
<g id="n521"><circle r="5" cx="261.3" cy="2563.5"/></g>
<g id="n522"><circle r="5" cx="261.3" cy="2583.8"/></g>
<g id="n523"><circle r="5" cx="261.3" cy="2604"/></g>
<g id="n524"><circle r="5" cx="261.3" cy="2624.3"/></g>
<g id="n525"><circle r="5" cx="261.3" cy="2644.6"/></g>
<g id="n526"><circle r="5" cx="227.7" cy="2583.8"/></g>
<g id="n527"><circle r="5" cx="227.7" cy="2604"/></g>
<g id="n528"><circle r="5" cx="227.7" cy="2624.3"/></g>
<g id="n529"><circle r="5" cx="227.7" cy="2644.6"/></g>
<g id="n530"><circle r="5" cx="227.7" cy="2664.8"/></g>
<g id="n531"><circle r="5" cx="227.7" cy="2685.1"/></g>
<g id="n532"><circle r="5" cx="227.7" cy="2705.4"/></g>
<g id="n533"><circle r="5" cx="227.7" cy="2725.6"/></g>
<g id="n534"><circle r="5" cx="227.7" cy="2745.9"/></g>
<g id="n535"><circle r="5" cx="227.7" cy="2766.2"/></g>
<g id="n536"><circle r="5" cx="227.7" cy="2786.4"/></g>
<g id="n537"><circle r="5" cx="227.7" cy="2806.7"/></g>
<g id="n538"><circle r="5" cx="227.7" cy="2827"/></g>
<g id="n539"><circle r="5" cx="227.7" cy="2847.2"/></g>
<g id="n540"><circle r="5" cx="245" cy="2867.5"/></g>
<g id="n541"><circle r="5" cx="245" cy="2887.8"/></g>
<g id="n542"><circle r="5" cx="245" cy="2908"/></g>
<g id="n543"><circle r="5" cx="245" cy="2928.3"/></g>
<g id="n544"><circle r="5" cx="265.5" cy="2948.6"/></g>
<g id="n545"><circle r="5" cx="266.9" cy="2968.8"/></g>
<g id="n546"><circle r="5" cx="266.9" cy="2989.1"/></g>
<g id="n547"><circle r="5" cx="266.9" cy="3009.4"/></g>
<g id="n548"><circle r="5" cx="268" cy="3029.6"/></g>
<g id="n549"><circle r="5" cx="268" cy="3049.9"/></g>
<g id="n550"><circle r="5" cx="268" cy="3070.2"/></g>
<g id="n551"><circle r="5" cx="268" cy="3090.4"/></g>
<g id="n552"><circle r="5" cx="194.1" cy="2664.8"/></g>
<g id="n553"><circle r="5" cx="194.1" cy="2685.1"/></g>
<g id="n554"><circle r="5" cx="295.2" cy="2583.8"/></g>
<g id="n555"><circle r="5" cx="295.2" cy="2604"/></g>
<g id="n556"><circle r="5" cx="295.2" cy="2624.3"/></g>
<g id="n557"><circle r="5" cx="295.2" cy="2644.6"/></g>
<g id="n558"><circle r="5" cx="295.2" cy="2664.8"/></g>
<g id="n559"><circle r="5" cx="295.2" cy="2685.1"/></g>
<g id="n560"><circle r="5" cx="295.2" cy="2705.4"/></g>
<g id="n561"><circle r="5" cx="295.2" cy="2725.6"/></g>
<g id="n562"><circle r="5" cx="295.2" cy="2745.9"/></g>
<g id="n563"><circle r="5" cx="295.2" cy="2766.2"/></g>
<g id="n564"><circle r="5" cx="295.2" cy="2786.4"/></g>
<g id="n565"><circle r="5" cx="295.2" cy="2806.7"/></g>
<g id="n566"><circle r="5" cx="261.3" cy="2664.8"/></g>
<g id="n567"><circle r="5" cx="261.3" cy="2685.1"/></g>
<g id="n568"><circle r="5" cx="328.8" cy="2624.3"/></g>
<g id="n569"><circle r="5" cx="328.8" cy="2644.6"/></g>
<g id="n570"><circle r="5" cx="328.8" cy="2664.8"/></g>
<g id="n571"><circle r="5" cx="328.8" cy="2685.1"/></g>
<g id="n572"><circle r="5" cx="211.4" cy="2867.5"/></g>
<g id="n573"><circle r="5" cx="211.4" cy="2887.8"/></g>
<g id="n574"><circle r="5" cx="229.1" cy="2948.6"/></g>
<g id="n575"><circle r="5" cx="224.9" cy="2968.8"/></g>
<g id="n576"><circle r="5" cx="216.7" cy="2989.1"/></g>
<g id="n577"><circle r="5" cx="200.5" cy="3009.4"/></g>
<g id="n578"><circle r="5" cx="200.5" cy="3029.6"/></g>
<g id="n579"><circle r="5" cx="200.5" cy="3049.9"/></g>
<g id="n580"><circle r="5" cx="200.5" cy="3070.2"/></g>
<g id="n581"><circle r="5" cx="200.5" cy="3090.4"/></g>
<g id="n582"><circle r="5" cx="159.5" cy="3029.6"/></g>
<g id="n583"><circle r="5" cx="142.9" cy="3049.9"/></g>
<g id="n584"><circle r="5" cx="133.7" cy="3070.2"/></g>
<g id="n585"><circle r="5" cx="133.7" cy="3090.4"/></g>
<g id="n586"><circle r="5" cx="167.3" cy="3070.2"/></g>
<g id="n587"><circle r="5" cx="167.3" cy="3090.4"/></g>
<g id="n588"><circle r="5" cx="151" cy="3110.7"/></g>
<g id="n589"><circle r="5" cx="151" cy="3131"/></g>
<g id="n590"><circle r="5" cx="151" cy="3151.2"/></g>
<g id="n591"><circle r="5" cx="151" cy="3171.5"/></g>
<g id="n592"><circle r="5" cx="184.6" cy="3110.7"/></g>
<g id="n593"><circle r="5" cx="184.6" cy="3131"/></g>
<g id="n594"><circle r="5" cx="234.4" cy="3070.2"/></g>
<g id="n595"><circle r="5" cx="234.4" cy="3090.4"/></g>
<g id="n596"><circle r="5" cx="234.4" cy="3110.7"/></g>
<g id="n597"><circle r="5" cx="234.4" cy="3131"/></g>
<g id="n598"><circle r="5" cx="234.4" cy="3151.2"/></g>
<g id="n599"><circle r="5" cx="234.4" cy="3171.5"/></g>
<g id="n600"><circle r="5" cx="216.7" cy="3191.8"/></g>
<g id="n601"><circle r="5" cx="216.7" cy="3212"/></g>
<g id="n602"><circle r="5" cx="216.7" cy="3232.3"/></g>
<g id="n603"><circle r="5" cx="216.7" cy="3252.6"/></g>
<g id="n604"><circle r="5" cx="216.7" cy="3272.8"/></g>
<g id="n605"><circle r="5" cx="216.7" cy="3293.1"/></g>
<g id="n606"><circle r="5" cx="216.7" cy="3313.4"/></g>
<g id="n607"><circle r="5" cx="216.7" cy="3333.6"/></g>
<g id="n608"><circle r="5" cx="216.7" cy="3353.9"/></g>
<g id="n609"><circle r="5" cx="216.7" cy="3374.2"/></g>
<g id="n610"><circle r="5" cx="200.5" cy="3394.4"/></g>
<g id="n611"><circle r="5" cx="200.5" cy="3414.7"/></g>
<g id="n612"><circle r="5" cx="200.5" cy="3435"/></g>
<g id="n613"><circle r="5" cx="200.5" cy="3455.2"/></g>
<g id="n614"><circle r="5" cx="200.5" cy="3475.5"/></g>
<g id="n615"><circle r="5" cx="200.5" cy="3495.8"/></g>
<g id="n616"><circle r="5" cx="184.6" cy="3516"/></g>
<g id="n617"><circle r="5" cx="184.6" cy="3536.3"/></g>
<g id="n618"><circle r="5" cx="184.6" cy="3556.6"/></g>
<g id="n619"><circle r="5" cx="184.6" cy="3576.8"/></g>
<g id="n620"><circle r="5" cx="184.6" cy="3597.1"/></g>
<g id="n621"><circle r="5" cx="184.6" cy="3617.4"/></g>
<g id="n622"><circle r="5" cx="184.6" cy="3637.6"/></g>
<g id="n623"><circle r="5" cx="184.6" cy="3657.9"/></g>
<g id="n624"><circle r="5" cx="250.3" cy="3191.8"/></g>
<g id="n625"><circle r="5" cx="250.3" cy="3212"/></g>
<g id="n626"><circle r="5" cx="234.4" cy="3394.4"/></g>
<g id="n627"><circle r="5" cx="234.4" cy="3414.7"/></g>
<g id="n628"><circle r="5" cx="234.4" cy="3435"/></g>
<g id="n629"><circle r="5" cx="234.4" cy="3455.2"/></g>
<g id="n630"><circle r="5" cx="234.4" cy="3475.5"/></g>
<g id="n631"><circle r="5" cx="234.4" cy="3495.8"/></g>
<g id="n632"><circle r="5" cx="218.5" cy="3516"/></g>
<g id="n633"><circle r="5" cx="218.5" cy="3536.3"/></g>
<g id="n634"><circle r="5" cx="218.5" cy="3556.6"/></g>
<g id="n635"><circle r="5" cx="218.5" cy="3576.8"/></g>
<g id="n636"><circle r="5" cx="218.5" cy="3597.1"/></g>
<g id="n637"><circle r="5" cx="218.5" cy="3617.4"/></g>
<g id="n638"><circle r="5" cx="218.5" cy="3637.6"/></g>
<g id="n639"><circle r="5" cx="218.5" cy="3657.9"/></g>
<g id="n640"><circle r="5" cx="200.5" cy="3678.2"/></g>
<g id="n641"><circle r="5" cx="200.5" cy="3698.4"/></g>
<g id="n642"><circle r="5" cx="234.4" cy="3678.2"/></g>
<g id="n643"><circle r="5" cx="234.4" cy="3698.4"/></g>
<g id="n644"><circle r="5" cx="234.4" cy="3718.7"/></g>
<g id="n645"><circle r="5" cx="234.4" cy="3738.9"/></g>
<g id="n646"><circle r="5" cx="301.6" cy="3070.2"/></g>
<g id="n647"><circle r="5" cx="301.6" cy="3090.4"/></g>
</g>
</svg>
